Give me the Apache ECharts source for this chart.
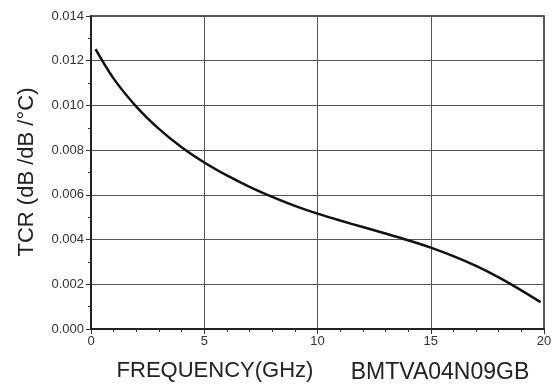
<!DOCTYPE html>
<html>
<head>
<meta charset="utf-8">
<script src="https://cdn.jsdelivr.net/npm/echarts@6/dist/echarts.min.js"></script>
<style>
  html, body { margin: 0; padding: 0; background: #fff; }
  #chart { width: 558px; height: 390px; }
</style>
</head>
<body>
<div id="chart"></div>
<script>
// frequency (GHz) and TCR
const freq = [0.2, 1, 2, 3, 4, 5, 6, 7, 8, 9, 10, 11, 12, 13, 14, 15, 16, 17, 18, 19, 19.85]
const tcr = [0.01252, 0.0112, 0.00995, 0.00895, 0.00813, 0.00745, 0.00687, 0.00636, 0.00591, 0.00551, 0.00516,
  0.00485, 0.00456, 0.00427, 0.00397, 0.00364, 0.00326, 0.00282, 0.00231, 0.00173, 0.00120]

const yTitle = 'TCR (dB /dB /°C)'
const xTitle = 'FREQUENCY(GHz)'
const partNo = 'BMTVA04N09GB'

const chart = echarts.init(document.getElementById('chart'))

const axisFont = { color: '#333', fontSize: 13, fontFamily: 'Liberation Sans' }
const titleFont = { fill: '#222', fontSize: 22, fontFamily: 'Liberation Sans' }

chart.setOption({
  animation: false,
  grid: {
    left: 91, right: 14, top: 16, bottom: 61,
    show: true, borderColor: '#222', borderWidth: 1.5
  },
  xAxis: {
    type: 'value',
    min: 0, max: 20, interval: 5,
    axisLine: { lineStyle: { color: '#222', width: 2 } },
    axisTick: { length: 5, lineStyle: { color: '#333' } },
    minorTick: { show: true, splitNumber: 5, length: 3, lineStyle: { color: '#333' } },
    splitLine: { lineStyle: { color: '#555', width: 1 } },
    axisLabel: { ...axisFont, margin: 6 }
  },
  yAxis: {
    type: 'value',
    min: 0, max: 0.014, interval: 0.002,
    axisLine: { show: true, lineStyle: { color: '#222', width: 2 } },
    axisTick: { show: true, length: 5, lineStyle: { color: '#333' } },
    minorTick: { show: true, splitNumber: 2, length: 3, lineStyle: { color: '#333' } },
    splitLine: { lineStyle: { color: '#555', width: 1 } },
    axisLabel: { ...axisFont, margin: 7, formatter: v => v.toFixed(3) }
  },
  graphic: [
    { type: 'text', x: 27, y: 172, rotation: Math.PI / 2,
      style: { text: yTitle, ...titleFont, align: 'center', verticalAlign: 'middle' } },
    { type: 'text', x: 215, y: 371,
      style: { text: xTitle, ...titleFont, align: 'center', verticalAlign: 'middle' } },
    { type: 'text', x: 440, y: 373,
      style: { text: partNo, ...titleFont, fontSize: 23, align: 'center', verticalAlign: 'middle' } }
  ],
  series: [{
    type: 'line',
    data: freq.map((f, i) => [f, tcr[i]]),
    smooth: 0.3,
    showSymbol: false,
    lineStyle: { color: '#111', width: 2.5 }
  }]
})
</script>
</body>
</html>
